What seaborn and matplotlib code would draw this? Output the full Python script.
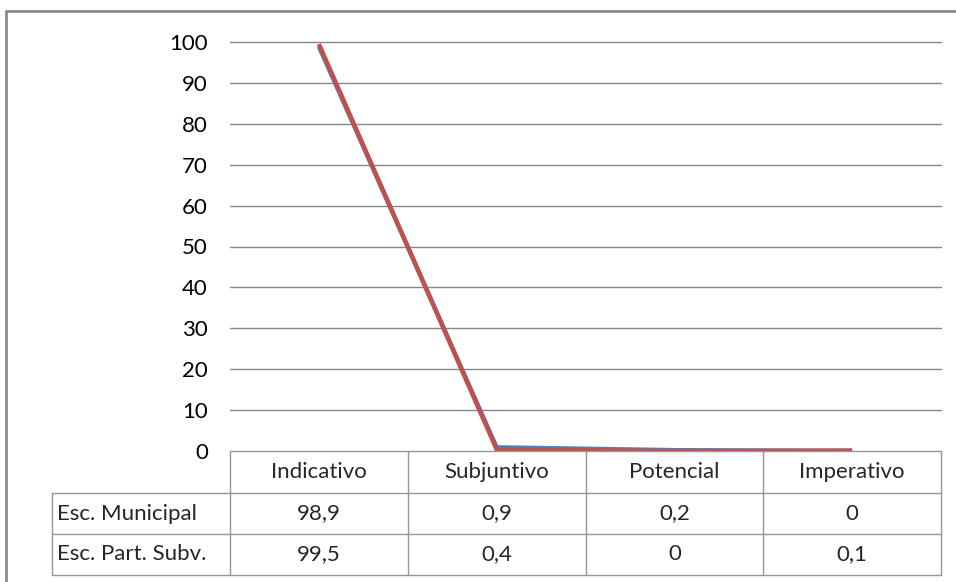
import matplotlib
matplotlib.use("Agg")
import matplotlib.pyplot as plt
from matplotlib.lines import Line2D
import seaborn as sns
import pandas as pd

# Verb mood distribution (%) by school type
categories = ["Indicativo", "Subjuntivo", "Potencial", "Imperativo"]
series_names = ["Esc. Municipal", "Esc. Part. Subv."]
municipal = [98.9, 0.9, 0.2, 0]
part_subv = [99.5, 0.4, 0, 0.1]
municipal_labels = ["98,9", "0,9", "0,2", "0"]
part_subv_labels = ["99,5", "0,4", "0", "0,1"]
y_ticks = [0, 10, 20, 30, 40, 50, 60, 70, 80, 90, 100]

sns.set_theme(style="white")
plt.rcParams["font.family"] = ["Lato", "DejaVu Sans"]

W, H = 956, 582
fig = plt.figure(figsize=(W / 100, H / 100), dpi=100)

def fx(px):
    return px / W

def fy(py):
    return 1 - py / H

left, right, top, bottom = 230, 941, 42, 451
ax = fig.add_axes([fx(left), fy(bottom), fx(right - left), fy(top) - fy(bottom)])

df = pd.DataFrame({
    "pos": list(range(len(categories))) * 2,
    "value": municipal + part_subv,
    "serie": [series_names[0]] * len(categories) + [series_names[1]] * len(categories),
})

sns.lineplot(data=df, x="pos", y="value", hue="serie", sort=False,
             palette=["#4F81BD", "#C0504D"], linewidth=3.2, legend=False, ax=ax,
             solid_capstyle="butt", solid_joinstyle="miter")

fs = 16

ax.set_xlim(-0.5, len(categories) - 0.5)
ax.set_ylim(0, 100)
ax.set_xlabel("")
ax.set_ylabel("")
ax.set_xticks([])
ax.set_yticks(y_ticks)
ax.set_yticklabels([str(v) for v in y_ticks], fontsize=fs, color="#000000")
ax.tick_params(axis="y", length=0, pad=16)
for s in ax.spines.values():
    s.set_visible(False)
for v in y_ticks[1:]:
    ax.axhline(v, color="#868686", linewidth=1.0, zorder=0, clip_on=False)
ax.patch.set_alpha(0)

# Data table under the plot
grid_color = "#969696"
col_edges = [left + i * (right - left) / len(categories) for i in range(len(categories) + 1)]
row_edges = [451, 493, 534, 575]
label_left = 52

def hline(x0, x1, y):
    fig.add_artist(Line2D([fx(x0), fx(x1)], [fy(y), fy(y)], color=grid_color, lw=1.0))

def vline(x, y0, y1):
    fig.add_artist(Line2D([fx(x), fx(x)], [fy(y0), fy(y1)], color=grid_color, lw=1.0))

hline(left, right, row_edges[0])
for y in row_edges[1:]:
    hline(label_left, right, y)
for x in col_edges:
    vline(x, row_edges[0], row_edges[-1])
vline(label_left, row_edges[1], row_edges[-1])

for i, cat in enumerate(categories):
    cx = (col_edges[i] + col_edges[i + 1]) / 2
    fig.text(fx(cx), fy((row_edges[0] + row_edges[1]) / 2), cat,
             ha="center", va="center", fontsize=fs)
    fig.text(fx(cx), fy((row_edges[1] + row_edges[2]) / 2), municipal_labels[i],
             ha="center", va="center", fontsize=fs)
    fig.text(fx(cx), fy((row_edges[2] + row_edges[3]) / 2), part_subv_labels[i],
             ha="center", va="center", fontsize=fs)

for r, name in enumerate(series_names):
    fig.text(fx(label_left + 5), fy((row_edges[r + 1] + row_edges[r + 2]) / 2), name,
             ha="left", va="center", fontsize=fs)

# Chart frame
frame_color = "#8C8C8C"
fig.add_artist(Line2D([fx(6), fx(W + 5)], [fy(11), fy(11)], color=frame_color, lw=2.0))
fig.add_artist(Line2D([fx(6), fx(6)], [fy(11), fy(H + 5)], color=frame_color, lw=2.0))

fig.savefig("out.png", dpi=100, facecolor="white")
